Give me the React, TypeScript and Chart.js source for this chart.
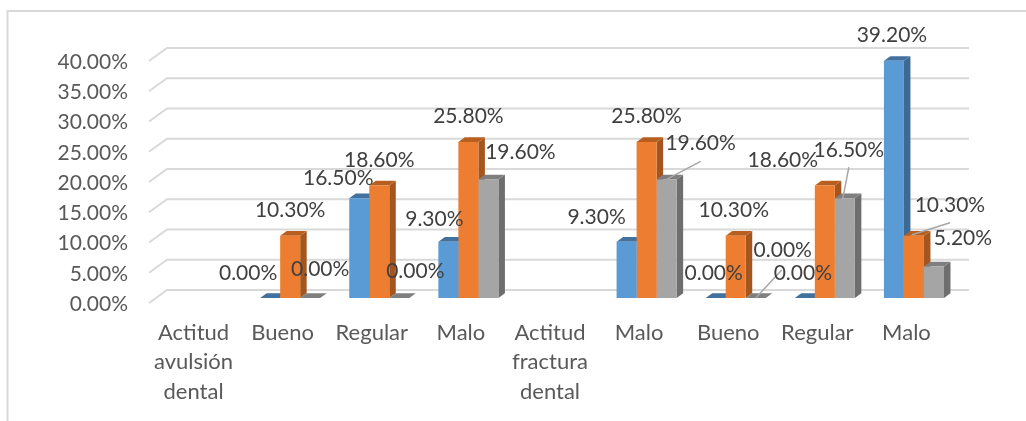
import React, { useEffect, useRef } from "react";
import { Chart, registerables } from "chart.js";

Chart.register(...registerables);

const categories: (string | string[])[] = [
  ["Actitud", "avulsión", "dental"],
  "Bueno",
  "Regular",
  "Malo",
  ["Actitud", "fractura", "dental"],
  "Malo",
  "Bueno",
  "Regular",
  "Malo",
];

const seriesA = [null, 0, 16.5, 9.3, null, 9.3, 0, 0, 39.2];
const seriesB = [null, 10.3, 18.6, 25.8, null, 25.8, 10.3, 18.6, 10.3];
const seriesC = [null, 0, 0, 19.6, null, 19.6, 0, 16.5, 5.2];
const allSeries = [seriesA, seriesB, seriesC];

const frontColors = ["#5B9BD5", "#ED7D31", "#A5A5A5"];
const topColors = ["#41719C", "#B85F20", "#7F7F7F"];
const sideColors = ["#3D6A94", "#A5561F", "#6E6E6E"];

// Value-label placement relative to the top centre of each bar.
const labelShiftA = [null, [-22, -25], [-21, -20], [-14, -23], null, [-30, -25], [-2, -25], [-2, -25], [-2, -26]];
const labelShiftB = [null, [0, -25], [0, -25], [0, -26], null, [0, -26], [-2, -25], [-42, -25], [36, -30]];
const labelShiftC = [null, [10, -29], [16, -27], [32, -27], null, [34, -36], [27, -48], [4, -48], [29, -28]];
const labelShifts = [labelShiftA, labelShiftB, labelShiftC];

// Leader lines: series, category, start offset from the label centre, end offset from the bar top.
const leaders = [
  { s: 2, i: 5, from: [0, 18], to: [-2, 1] },
  { s: 2, i: 6, from: [-1, 20], to: [0, 0] },
  { s: 2, i: 7, from: [0, 17], to: [-2, 0] },
  { s: 1, i: 8, from: [0, 17], to: [-2, -1] },
];

const DEPTH_X = 6.5;
const DEPTH_Y = 4.7;
const BAR_SHIFT_X = 7.5;
const BAR_SHIFT_Y = -5;
const WALL_X = 18;
const WALL_Y = 13;
const GRID_COLOR = "#D9D9D9";
const FONT_FAMILY = "Lato";

const polygon = (ctx: CanvasRenderingContext2D, pts: number[][], color: string) => {
  ctx.fillStyle = color;
  ctx.beginPath();
  pts.forEach(([x, y], n) => (n ? ctx.lineTo(x, y) : ctx.moveTo(x, y)));
  ctx.closePath();
  ctx.fill();
};

// Frame, receding gridlines, then the depth faces of each bar behind the native fronts.
const depthPlugin = {
  id: "depth",
  beforeDatasetsDraw(chart: any) {
    const { ctx, chartArea, scales } = chart;
    ctx.save();
    ctx.strokeStyle = GRID_COLOR;
    ctx.lineWidth = 2;
    ctx.beginPath();
    ctx.moveTo(7.5, chart.height);
    ctx.lineTo(7.5, 11);
    ctx.lineTo(chart.width, 11);
    ctx.stroke();
    scales.y.ticks.forEach((t: any) => {
      const y = scales.y.getPixelForValue(t.value);
      ctx.beginPath();
      ctx.moveTo(chartArea.left, y);
      ctx.lineTo(chartArea.left + WALL_X, y - WALL_Y);
      ctx.lineTo(chartArea.right + WALL_X, y - WALL_Y);
      ctx.stroke();
    });
    ctx.translate(BAR_SHIFT_X, BAR_SHIFT_Y);
    allSeries.forEach((_, s) => {
      chart.getDatasetMeta(s).data.forEach((bar: any, i: number) => {
        if (allSeries[s][i] === null) return;
        const half = bar.width / 2;
        const l = bar.x - half;
        const r = bar.x + half;
        const top = bar.y;
        const base = bar.base;
        polygon(ctx, [[r, top], [r + DEPTH_X, top - DEPTH_Y], [r + DEPTH_X, base - DEPTH_Y], [r, base]], sideColors[s]);
        polygon(ctx, [[l, top], [r, top], [r + DEPTH_X, top - DEPTH_Y], [l + DEPTH_X, top - DEPTH_Y]], topColors[s]);
      });
    });
    // The transform stays active for the native bars and is undone after them.
  },
  afterDatasetsDraw(chart: any) {
    const { ctx } = chart;
    ctx.restore();
    ctx.save();
    const point = (s: number, i: number) => {
      const bar = chart.getDatasetMeta(s).data[i];
      return [bar.x + BAR_SHIFT_X, bar.y + BAR_SHIFT_Y];
    };
    ctx.strokeStyle = "#A6A6A6";
    ctx.lineWidth = 1.5;
    leaders.forEach(({ s, i, from, to }) => {
      const [x, y] = point(s, i);
      const [dx, dy] = labelShifts[s][i] as number[];
      ctx.beginPath();
      ctx.moveTo(x + dx + from[0], y + dy + from[1]);
      ctx.lineTo(x + to[0], y + to[1]);
      ctx.stroke();
    });
    ctx.font = `21px ${FONT_FAMILY}`;
    ctx.fillStyle = "#404040";
    ctx.textAlign = "center";
    ctx.textBaseline = "middle";
    allSeries.forEach((values, s) => {
      values.forEach((v, i) => {
        if (v === null) return;
        const [x, y] = point(s, i);
        const [dx, dy] = labelShifts[s][i] as number[];
        ctx.fillText(`${v.toFixed(2)}%`, x + dx, y + dy);
      });
    });
    ctx.restore();
  },
};

export default function App() {
  const ref = useRef<HTMLCanvasElement>(null);

  useEffect(() => {
    document.body.style.margin = "0";
    const chart = new Chart(ref.current as HTMLCanvasElement, {
      type: "bar",
      data: {
        labels: categories as any,
        datasets: allSeries.map((data, s) => ({
          data: data as any,
          backgroundColor: frontColors[s],
          barPercentage: 1,
          categoryPercentage: 0.674,
          clip: false as any,
        })),
      },
      options: {
        responsive: false,
        animation: false,
        layout: { autoPadding: false, padding: { top: 61, right: 75, left: 0, bottom: 0 } },
        plugins: { legend: { display: false }, tooltip: { enabled: false } },
        scales: {
          x: {
            grid: { display: false, drawTicks: false },
            border: { display: false },
            afterFit: (scale: any) => {
              scale.height = 118;
            },
            ticks: {
              autoSkip: false,
              maxRotation: 0,
              padding: 15,
              color: "#595959",
              font: { family: FONT_FAMILY, size: 22, lineHeight: 1.34 },
            },
          },
          y: {
            min: 0,
            max: 40,
            grid: { display: false, drawTicks: false },
            border: { display: false },
            afterFit: (scale: any) => {
              scale.width = 149;
            },
            ticks: {
              stepSize: 5,
              padding: 21,
              labelOffset: 1,
              color: "#595959",
              font: { family: FONT_FAMILY, size: 21 },
              callback: (v: any) => `${Number(v).toFixed(2)}%`,
            },
          },
        },
      },
      plugins: [depthPlugin],
    });
    return () => chart.destroy();
  }, []);

  return <canvas ref={ref} width={1026} height={421} style={{ display: "block" }} />;
}
